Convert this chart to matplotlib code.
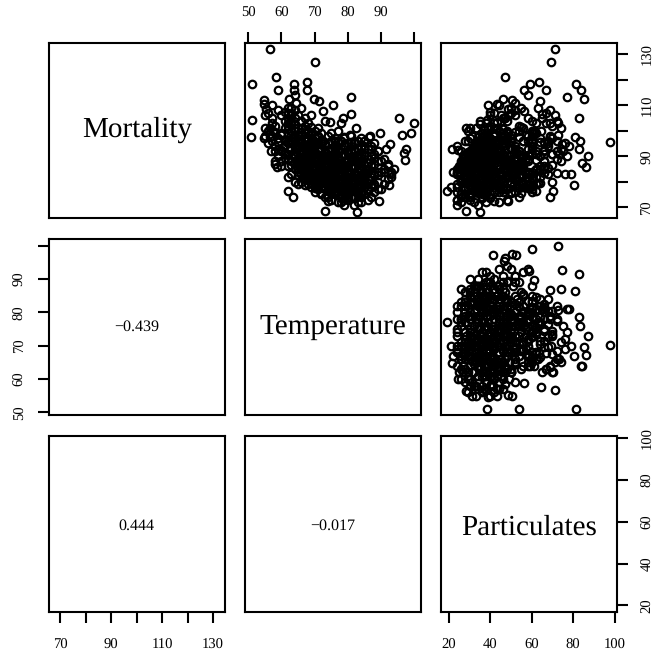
import matplotlib
matplotlib.use('Agg')
import matplotlib.pyplot as plt

plt.rcParams['font.family'] = ['Liberation Serif', 'DejaVu Serif']
plt.rcParams['text.hinting'] = 'no_hinting'

temperature = [
    56.6, 70.0, 51.1, 58.5, 58.9, 63.9, 67.8, 67.8, 63.9, 80.9, 69.7, 71.3,
    75.6, 72.5, 80.9, 78.6, 78.1, 74.7, 54.8, 54.8, 55.2, 51.1, 50.9, 54.6,
    56.4, 56.4, 95.5, 100.0, 99.1, 96.3, 89.7, 86.7, 82.6, 80.6, 92.7, 91.4,
    97.5, 97.1, 97.3, 92.4, 89.4, 82.9, 73.0, 62.1, 63.6, 56.9, 57.9, 58.6,
    86.3, 76.0, 63.8, 67.2, 72.9, 70.3, 60.0, 64.8, 77.0, 70.0, 87.0, 57.5,
    72, 70, 67, 91, 93, 85,
    58, 59, 60, 60, 61, 59, 58, 61, 60, 59, 61, 60, 58, 59, 60, 61, 57, 62,
    62, 63, 64, 65, 62, 63, 64, 65, 62, 63, 64, 65, 62, 63, 64, 65, 62, 63, 64, 65, 62, 63, 64, 65, 62, 63, 64, 65,
    66, 67, 68, 69, 66, 67, 68, 69, 66, 67, 68, 69,
    66, 67, 68, 69, 66, 67, 68, 69, 66, 67, 68, 69,
    66, 67, 68, 69, 66, 67, 68, 69, 66, 67, 68, 69,
    66.5, 67.5, 68.5, 69.5, 66.5, 67.5, 68.5, 69.5, 66.5, 67.5, 68.5, 69.5,
    70, 71, 72, 73, 70, 71, 72, 73, 70, 71, 72, 73,
    70, 71, 72, 73, 70, 71, 72, 73, 70, 71, 72, 73,
    70, 71, 72, 73, 70, 71, 72, 73, 70, 71, 72, 73,
    70.5, 71.5, 72.5, 73.5, 70.5, 71.5, 72.5, 73.5, 70.5, 71.5, 72.5, 73.5,
    74, 75, 76, 77, 74, 75, 76, 77, 74, 75, 76, 77,
    74, 75, 76, 77, 74, 75, 76, 77, 74, 75, 76, 77,
    74, 75, 76, 77, 74, 75, 76, 77, 74, 75, 76, 77,
    74.5, 75.5, 76.5, 77.5, 74.5, 75.5, 76.5, 77.5, 74.5, 75.5, 76.5, 77.5,
    78, 79, 80, 81, 78, 79, 80, 81, 78, 79, 80, 81,
    78, 79, 80, 81, 78, 79, 80, 81, 78, 79, 80, 81,
    78, 79, 80, 81, 78, 79, 80, 81, 78, 79, 80, 81,
    78.5, 79.5, 80.5, 81.5, 78.5, 79.5, 80.5, 81.5, 78.5, 79.5, 80.5, 81.5,
    82, 83, 84, 85, 82, 83, 84, 85, 82, 83, 84, 85,
    82, 83, 84, 85, 82, 83, 84, 85, 82, 83, 84, 85,
    82, 83, 84, 85, 82, 83, 84, 85, 82, 83, 84, 85,
    82.5, 83.5, 84.5, 85.5, 82.5, 83.5,
    86, 87, 88, 89, 86, 87, 88, 89, 86, 87, 88, 89,
    86, 87, 88, 89, 86, 87, 88, 89, 86, 87, 88, 89,
    90, 91, 92, 93, 90, 91, 92, 93, 90, 91, 92, 94,
    55, 56, 57, 58, 56, 57, 55, 56, 57, 58, 55, 57,
    62.4, 64.4, 64, 62, 63, 61,
    62, 63, 64, 65, 66, 64, 63, 65, 66, 62,
    81, 76, 74, 71, 69, 66, 78,
    63.5, 65.5, 67.5, 69.5, 71.5, 64.5, 66.5, 68.5, 70.5, 72.5, 65, 67,
    69, 71, 73, 75, 63, 65, 67, 69, 71, 73, 75, 77,
    74, 76, 78, 80, 82, 84, 86, 88, 73, 75, 77, 79,
    81, 83, 85, 87, 89, 75, 77, 79, 81, 83, 85, 87,
    76, 78, 80, 82, 84, 86, 88, 77, 79, 81, 83, 85,
    60.5, 62.5, 64.5, 66.5, 68.5, 70.5, 72.5, 61.5, 63.5, 65.5, 67.5, 69.5,
    71, 73, 75, 77, 79, 81, 83, 85, 87, 74, 72, 70,
    66, 68, 70, 72, 74, 76, 78, 80, 82, 84, 86, 88,
    62, 64, 66, 68, 70, 72, 74, 76, 78, 80, 82, 84,
    60, 62, 64, 66, 68, 70, 61, 63, 65, 67, 69, 71,
    72, 74, 76, 78, 80, 82, 84, 86, 73, 75, 77, 79,
    62, 64, 66, 68, 70, 72, 74, 76, 78, 80, 82, 84,
    59, 61, 63, 65, 67, 69, 71, 73, 75, 77, 79, 81,
]

mortality = [
    131.9, 126.8, 118.5, 121.0, 115.9, 118.2, 119.3, 115.9, 115.9, 113.3, 112.6, 111.6,
    110.0, 107.8, 106.5, 104.8, 102.9, 103.4, 112.0, 110.4, 108.7, 104.2, 97.4, 97.0,
    97.4, 100.9, 104.9, 102.9, 99.1, 98.2, 99.0, 98.0, 100.9, 98.2, 94.8, 92.9,
    92.9, 91.4, 88.4, 78.7, 72.5, 68.3, 68.6, 76.5, 74.2, 92.2, 88.1, 85.6,
    97.6, 96.0, 87.5, 85.8, 90.0, 95.4, 92.4, 92.8, 76.4, 78.0, 93.0, 100.0,
    82.9, 82.9, 78.7, 84, 82, 83,
    94, 97, 92, 99, 96, 90, 102, 104, 106, 108, 101, 88, 99, 93, 86, 91, 105, 89,
    86, 88, 85, 84, 91, 93, 90, 87, 96, 95, 92, 89, 99, 100, 97, 94, 103, 104, 101, 98, 107, 109, 105, 96, 82, 83, 80, 79,
    80, 81, 79, 78, 83, 84, 82, 81, 86, 87, 85, 84,
    89, 90, 88, 87, 92, 93, 91, 90, 95, 96, 94, 93,
    98, 99, 97, 96, 101, 102, 100, 99, 104, 105, 103, 106,
    82, 85, 88, 91, 94, 97, 80, 83, 86, 89, 92, 95,
    76, 77, 75, 74, 79, 80, 78, 77, 82, 83, 81, 80,
    85, 86, 84, 83, 88, 89, 87, 86, 91, 92, 90, 89,
    94, 95, 93, 92, 97, 98, 96, 95, 100, 101, 99, 104,
    78, 81, 84, 87, 90, 93, 96, 79, 82, 85, 88, 91,
    74, 73, 75, 72, 77, 78, 76, 75, 80, 81, 79, 78,
    83, 84, 82, 81, 86, 87, 85, 84, 89, 90, 88, 87,
    92, 93, 91, 90, 95, 96, 94, 93, 98, 99, 97, 100,
    76, 79, 82, 85, 88, 91, 94, 77, 80, 83, 86, 89,
    72, 71, 73, 74, 75, 76, 74, 77, 78, 79, 77, 80,
    81, 82, 80, 83, 84, 85, 83, 86, 87, 88, 86, 89,
    90, 91, 89, 92, 93, 94, 92, 95, 96, 97, 95, 98,
    73, 76, 79, 82, 85, 88, 91, 74, 77, 80, 83, 86,
    71, 72, 74, 75, 74, 75, 76, 78, 77, 78, 79, 81,
    80, 81, 82, 84, 83, 84, 85, 87, 86, 87, 88, 90,
    89, 90, 91, 93, 92, 93, 94, 96, 95, 96, 97, 94,
    76, 79, 82, 85, 88, 91,
    73, 74, 76, 77, 77, 78, 79, 80, 81, 82, 83, 84,
    85, 86, 87, 88, 89, 90, 91, 92, 93, 94, 95, 92,
    77, 79, 81, 83, 84, 85, 86, 84, 88, 89, 87, 85,
    98, 100, 96, 92, 95, 103, 106, 107, 98, 87, 101, 110,
    112.4, 111, 114, 109, 106, 107.5,
    105, 107, 108, 106, 104, 100, 103, 101, 109, 102,
    94, 92, 90, 88, 95, 91, 96,
    90.5, 88.5, 87.5, 85.5, 83.5, 94.5, 92.5, 91.5, 88.5, 86.5, 85.5, 83.5,
    82.5, 80.5, 79.5, 78.5, 96.5, 94.5, 93.5, 91.5, 89.5, 87.5, 85.5, 83.5,
    76.5, 75.5, 74.5, 73.5, 73.5, 75.5, 76.5, 78.5, 81.5, 79.5, 78.5, 77.5,
    76.5, 77.5, 79.5, 80.5, 82.5, 84.5, 82.5, 81.5, 79.5, 80.5, 82.5, 83.5,
    88.5, 86.5, 84.5, 85.5, 86.5, 87.5, 89.5, 91.5, 90.5, 88.5, 89.5, 90.5,
    93.5, 92.5, 88.5, 85.5, 83.5, 80.5, 78.5, 96.5, 97.5, 91.5, 94.5, 96.5,
    97.5, 94.5, 92.5, 88.5, 94.5, 92.5, 87.5, 83.5, 86.5, 72.5, 75.5, 81.5,
    87.5, 89.5, 91.5, 84.5, 86.5, 80.5, 82.5, 86.5, 82.5, 80.5, 84.5, 82.5,
    95, 93, 96, 94, 86, 90, 90, 96, 80, 76, 78, 72,
    98.5, 100.5, 102.5, 99.5, 96.5, 94.5, 94.5, 98.5, 95.5, 100.5, 101.5, 97.5,
    90.5, 88.5, 85.5, 83.5, 81.5, 79.5, 77.5, 79.5, 86.5, 92.5, 79.5, 75.5,
    90.5, 87.5, 84.5, 80.5, 77.5, 75.5, 78.5, 77.5, 76.5, 78.5, 83.5, 85.5,
    95.5, 89.5, 86.5, 82.5, 87.5, 98.5, 92.5, 83.5, 89.5, 95.5, 97.5, 95.5,
]

particulates = [
    71.3, 69.5, 81.4, 47.1, 56.5, 59.2, 63.4, 67.0, 84.0, 77.0, 85.0, 64.1,
    38.7, 56.5, 64.9, 82.7, 68.8, 43.4, 50.7, 43.4, 48.3, 38.2, 54.0, 38.7,
    35.8, 28.1, 46.4, 72.7, 60.0, 47.3, 61.0, 68.8, 30.2, 72.7, 74.7, 83.0,
    50.7, 52.2, 41.2, 58.7, 48.3, 34.8, 28.1, 70.3, 69.0, 43.4, 41.5, 40.5,
    80.9, 83.1, 84.3, 86.4, 87.0, 98.0, 24.2, 21.7, 19.2, 20.8, 74.2, 64.6,
    75.9, 79.1, 80.3, 52, 58, 60,
    33, 38, 30, 46, 41, 28, 40, 45, 49, 52, 43, 26, 36, 31, 29, 34, 46, 27,
    25, 28, 24, 33, 32, 35, 27, 40, 29, 41, 37, 46, 36, 44, 30, 52, 42, 48, 39, 58, 50, 55, 47, 60, 31, 26, 38, 42,
    26, 30, 24, 34, 38, 22, 28, 42, 32, 26, 36, 24,
    30, 36, 44, 28, 26, 40, 33, 46, 34, 48, 38, 52,
    45, 38, 50, 56, 42, 54, 60, 48, 35, 58, 62, 52,
    58, 62, 55, 66, 60, 70, 46, 52, 64, 58, 72, 68,
    24, 28, 36, 30, 42, 26, 34, 46, 30, 38, 28, 50,
    26, 32, 40, 24, 36, 44, 30, 52, 28, 42, 34, 48,
    32, 46, 38, 54, 40, 36, 50, 44, 48, 56, 42, 60,
    56, 52, 60, 48, 64, 58, 68, 62, 54, 66, 50, 70,
    30, 24, 38, 44, 28, 34, 50, 26, 40, 30, 54, 36,
    24, 44, 32, 28, 36, 48, 26, 58, 30, 42, 52, 34,
    40, 34, 46, 56, 36, 50, 60, 44, 42, 62, 48, 54,
    60, 56, 64, 50, 66, 62, 68, 46, 70, 58, 54, 72,
    26, 34, 24, 40, 30, 46, 28, 36, 24, 50, 32, 42,
    26, 38, 30, 46, 34, 28, 52, 36, 42, 30, 56, 40,
    44, 54, 36, 62, 50, 40, 66, 46, 58, 48, 38, 60,
    48, 42, 56, 60, 64, 58, 70, 54, 60, 50, 68, 66,
    24, 32, 28, 40, 36, 26, 44, 30, 48, 28, 34, 38,
    26, 36, 42, 32, 50, 30, 44, 36, 28, 54, 40, 46,
    34, 48, 38, 52, 44, 60, 42, 56, 36, 50, 64, 46,
    52, 58, 62, 56, 66, 60,
    30, 26, 34, 38, 28, 42, 32, 46, 36, 30, 44, 40,
    28, 38, 34, 48, 32, 44, 40, 52, 36, 46, 60, 54,
    34, 40, 36, 44, 30, 46, 38, 50, 42, 52, 56, 48,
    31, 29, 34, 32, 36, 38, 40, 42, 37, 30, 33, 44,
    46, 52, 58, 50, 45, 40,
    65, 67, 69, 71, 72, 61, 67, 74, 63, 70,
    78, 75, 77, 74, 76, 73, 72,
    35, 31, 27, 29, 33, 39, 41, 29, 37, 31, 36, 34,
    30, 33, 40, 35, 43, 45, 33, 39, 29, 35, 41, 37,
    32, 38, 30, 36, 40, 34, 38, 33, 36, 42, 33, 29,
    38, 31, 43, 35, 39, 47, 39, 35, 44, 37, 32, 42,
    38, 33, 41, 35, 47, 39, 43, 36, 44, 33, 41, 37,
    36, 44, 32, 34, 40, 38, 44, 39, 34, 43, 35, 41,
    39, 43, 37, 46, 35, 43, 50, 45, 33, 42, 37, 47,
    47, 52, 44, 48, 55, 45, 54, 49, 56, 53, 47, 51,
    38, 42, 28, 24, 36, 32, 44, 41, 48, 42, 46, 38,
    42, 46, 35, 52, 48, 33, 38, 50, 44, 37, 55, 46,
    58, 62, 52, 66, 60, 64, 48, 55, 70, 66, 63, 55,
    50, 56, 62, 52, 58, 50, 60, 54, 62, 58, 72, 68,
    44, 37, 43, 49, 54, 57, 41, 44, 57, 64, 69, 66,
]

names = ['Mortality', 'Temperature', 'Particulates']
corr_labels = {(1, 0): '\u22120.439', (2, 0): '0.444', (2, 1): '\u22120.017'}

mortality_ticks = [70, 80, 90, 100, 110, 120, 130]
mortality_labels = ['70', '', '90', '', '110', '', '130']
temperature_ticks = [50, 60, 70, 80, 90, 100]
temperature_labels = ['50', '60', '70', '80', '90', '']
particulate_ticks = [20, 40, 60, 80, 100]
particulate_labels = ['20', '40', '60', '80', '100']

W, H = 652, 658
xlims = [(65.5, 134.6), (49.0, 102.0), (16.2, 101.0)]
ylims = [(65.7, 134.6), (49.2, 101.9), (17.0, 101.1)]
left = [49, 245, 441]
top = [42.5, 239.3, 436]
size = 175.7
name_y = [0.464, 0.459, 0.4405]
corr_y = [None, 0.478, 0.465]

values = [mortality, temperature, particulates]

fig = plt.figure(figsize=(W / 100, H / 100), dpi=100)
axes = {}
for r in range(3):
    for c in range(3):
        ax = fig.add_axes([left[c] / W, 1 - (top[r] + size) / H, size / W, size / H])
        axes[r, c] = ax
        ax.set_xlim(xlims[c])
        ax.set_ylim(ylims[r])
        ax.set_xticks([])
        ax.set_yticks([])
        for s in ax.spines.values():
            s.set_linewidth(1.5)
        if r == c:
            ax.text(0.5, name_y[r], names[r], transform=ax.transAxes, ha='center', va='baseline', fontsize=21)
        elif r > c:
            ax.text(0.5, corr_y[r], corr_labels[r, c], transform=ax.transAxes, ha='center', va='baseline', fontsize=11.5)
        else:
            ax.plot(values[c], values[r], 'o', mfc='none', mec='black', ms=5.4, mew=1.6)

tick_args = dict(direction='out', length=7.9, width=1.5, labelsize=10.5)

ax = axes[2, 0]
ax.set_xticks(mortality_ticks, mortality_labels)
ax.tick_params(axis='x', pad=11.3, **tick_args)

ax = axes[2, 2]
ax.set_xticks(particulate_ticks, particulate_labels)
ax.tick_params(axis='x', pad=11.3, **tick_args)

ax = axes[0, 1]
ax.xaxis.tick_top()
ax.set_xticks(temperature_ticks, temperature_labels)
ax.tick_params(axis='x', pad=8, **tick_args)

ax = axes[1, 0]
ax.set_yticks(temperature_ticks, temperature_labels, rotation=90, va='center')
ax.tick_params(axis='y', pad=8, **tick_args)

ax = axes[0, 2]
ax.yaxis.tick_right()
ax.set_yticks(mortality_ticks, mortality_labels, rotation=90, va='center')
ax.tick_params(axis='y', pad=9.5, **tick_args)

ax = axes[2, 2]
ax.yaxis.tick_right()
ax.set_yticks(particulate_ticks, particulate_labels, rotation=90, va='center')
ax.tick_params(axis='y', pad=9.5, **tick_args)

fig.savefig('out.png', dpi=100)
